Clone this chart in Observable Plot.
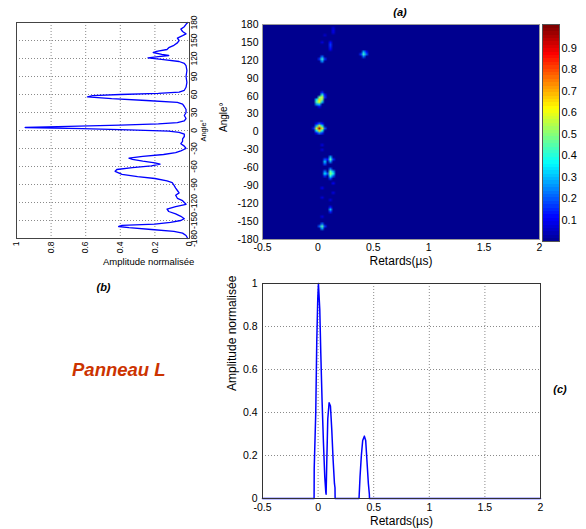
<!DOCTYPE html>
<html><head><meta charset="utf-8">
<script src="https://cdn.jsdelivr.net/npm/d3@7"></script>
<script src="https://cdn.jsdelivr.net/npm/@observablehq/plot@0.6"></script>
<style>
html,body{margin:0;padding:0;background:#fff;}
#fig{position:relative;width:586px;height:529px;overflow:hidden;font-family:"Liberation Sans",Arial,sans-serif;background:#fff;}
#fig svg{position:absolute;left:0;top:0;}
.tag{position:absolute;font-weight:900;font-style:italic;font-size:11px;color:#000;transform:translate(-50%,-50%);white-space:nowrap;}
.panel{position:absolute;left:72px;top:361px;font-weight:bold;font-style:italic;font-size:18.5px;line-height:18px;color:#CC3300;white-space:nowrap;}
</style></head><body><div id="fig"></div>
<script>
// ---------- data ----------
// (b) angular profile
const profileAngle = [-180,-175,-171,-168,-165,-162,-160,-158,-156,-153,-150,-147,-143,-139,-135,-131,-127,-123,-120,-117,-113,-108,-104,-100,-96,-91,-87,-84,-80,-77,-73,-68,-65,-62,-59,-56,-54,-51,-48,-46,-43,-40,-37,-34,-30,-26,-22,-18,-14,-10,-6,-3,-1,1,3,5,7,9,11,13,16,20,25,30,35,40,44,47,50,53,56,58,60,62,64,67,72,80,90,100,108,112,115,118,121,123,125,127,130,132,135,138,142,146,150,154,158,161,165,169,173,177,180];
const profileAmp = [0.01,0.02,0.04,0.09,0.22,0.35,0.41,0.39,0.2,0.11,0.05,0.03,0.05,0.08,0.12,0.13,0.08,0.02,0.03,0.04,0.07,0.08,0.06,0.07,0.08,0.09,0.1,0.13,0.2,0.3,0.39,0.43,0.42,0.33,0.22,0.17,0.2,0.27,0.33,0.35,0.27,0.15,0.08,0.05,0.02,0.03,0.05,0.04,0.04,0.03,0.03,0.06,0.12,0.35,0.62,0.95,0.7,0.4,0.18,0.07,0.03,0.02,0.03,0.02,0.02,0.03,0.04,0.07,0.25,0.45,0.59,0.56,0.4,0.18,0.06,0.03,0.02,0.015,0.02,0.015,0.02,0.03,0.06,0.15,0.24,0.18,0.12,0.16,0.21,0.19,0.13,0.12,0.09,0.07,0.06,0.07,0.04,0.02,0.04,0.05,0.03,0.02,0.01];
// (c) delay profile
const delayT = [-0.5,-0.036,-0.035,-0.021,-0.012,-0.003,0.003,0.015,0.024,0.036,0.048,0.06,0.069,0.072,0.078,0.087,0.099,0.111,0.123,0.135,0.147,0.152,0.153,0.368,0.377,0.389,0.401,0.416,0.428,0.44,0.452,0.461,0.462,2];
const delayAmp = [0,0,0.14,0.4,0.73,0.93,1.0,0.88,0.68,0.45,0.26,0.1,0.03,0.02,0.17,0.37,0.445,0.43,0.32,0.18,0.07,0.05,0,0,0.1,0.2,0.27,0.29,0.27,0.17,0.07,0.02,0,0];
// (a) delay-angle map: bright samples (rest of the map at background level)
const spotDelay = [
  0.0125,0.0125,0.0125,-0.0125,0.0375,-0.0125,0.0375,-0.0125,0.0375,0.0125,0.0125,-0.0375,0.0625,-0.0125,0.0375,-0.0125,0.0375,
  -0.0125,-0.0125,-0.0125,0.0125,0.0125,0.0125,0.0125,0.0375,0.0375,0.0375,0.0375,0.0375,0.0625,0.0125,0.0625,
  0.0375,0.0375,0.0375,0.0625,0.0125,
  0.4125,0.4125,0.4125,0.4375,0.3875,0.4375,
  0.1125,0.1125,0.1125,0.1125,0.1375,0.1375,0.1375,0.0625,0.0375,
  0.0625,0.0625,0.0625,
  0.1125,0.1125,0.1125,0.1375,0.0875,
  0.0625,0.0625,0.0625,
  0.1125,0.1125,0.1125,0.1375,0.1375,0.0875,0.1125,0.1125,0.1375,
  0.1125,0.1125,0.1125,
  0.0375,0.0375,0.0375,0.0125,0.0625,
  0.0375,0.0375,0.0375,0.1375,0.1375,0.0375,0.0375,0.1125];
const spotAngle = [
  6,2,10,6,6,2,2,10,10,-2,14,6,6,-2,-2,14,14,
  46,50,54,46,50,54,58,50,54,58,62,66,58,42,62,
  122,118,126,122,122,
  130,134,126,130,130,134,
  138,142,146,150,166,170,174,162,150,
  -50,-46,-54,
  -46,-42,-50,-46,-46,
  -70,-66,-74,
  -70,-66,-74,-70,-66,-70,-78,-62,-74,
  -130,-126,-134,
  -158,-162,-154,-158,-158,
  -94,-110,-142,-86,-102,-22,-30,-114];
const spotValue = [
  0.97,0.65,0.6,0.6,0.62,0.35,0.38,0.3,0.35,0.25,0.2,0.15,0.2,0.12,0.15,0.1,0.12,
  0.25,0.45,0.35,0.3,0.6,0.66,0.45,0.3,0.5,0.58,0.4,0.15,0.15,0.1,0.12,
  0.42,0.25,0.22,0.15,0.15,
  0.42,0.3,0.22,0.2,0.15,0.12,
  0.1,0.14,0.16,0.12,0.08,0.09,0.07,0.06,0.08,
  0.32,0.18,0.18,
  0.44,0.28,0.25,0.15,0.12,
  0.34,0.22,0.15,
  0.5,0.44,0.38,0.38,0.28,0.18,0.18,0.22,0.2,
  0.28,0.12,0.14,
  0.45,0.28,0.22,0.2,0.15,
  0.1,0.08,0.08,0.1,0.08,0.08,0.07,0.07];
const backgroundLevel = 0;
// axes
const delayDomain = [-0.5, 2];
const angleDomain = [-180, 180];
const delayTicks = [-0.5, 0, 0.5, 1, 1.5, 2];
const angleTicks = [-180,-150,-120,-90,-60,-30,0,30,60,90,120,150,180];
const ampTicks = [0, 0.2, 0.4, 0.6, 0.8, 1];
const colorbarTicks = [0.1,0.2,0.3,0.4,0.5,0.6,0.7,0.8,0.9];
const colorbarDomain = [0, 1.01];
const jetStops = [0, 0.111, 0.365, 0.619, 0.873, 1];
const jetColors = ["#00008F","#0000FF","#00FFFF","#FFFF00","#FF0000","#800000"];

// ---------- build ----------
const FONT = '"Liberation Sans", Arial, sans-serif';
const fmt = d => String(d);
const fig = document.getElementById("fig");
const profile = profileAngle.map((a, i) => ({angle: a, amp: profileAmp[i]}));
const delayProfile = delayT.map((t, i) => ({t, amp: delayAmp[i]}));
const spots = spotDelay.map((t, i) => ({t, angle: spotAngle[i], value: spotValue[i]}));
const colorScale = {type: "linear", domain: jetStops, range: jetColors, interpolate: "rgb", clamp: true};
const gridStyle = {stroke: "#8a8a8a", strokeOpacity: 1, strokeDasharray: "1,2", strokeWidth: 1};

// (a) heat map
const heat = Plot.plot({
  width: 545, height: 272, marginLeft: 262, marginRight: 6, marginTop: 24, marginBottom: 33,
  style: {fontFamily: FONT, fontSize: "10.5px", background: "transparent", color: "#000"},
  x: {domain: delayDomain}, y: {domain: angleDomain}, color: colorScale,
  marks: [
    Plot.rect([backgroundLevel], {x1: () => delayDomain[0], x2: () => delayDomain[1], y1: () => angleDomain[0], y2: () => angleDomain[1], fill: d => d}),
    Plot.raster(spots, {x: "t", y: "angle", fill: "value", x1: delayDomain[0], x2: delayDomain[1], y1: angleDomain[0], y2: angleDomain[1], width: 100, height: 90, imageRendering: "auto"}),
    Plot.frame({stroke: "#9a9a9a"}),
    Plot.axisX({ticks: delayTicks, tickFormat: fmt, tickSize: 0, tickPadding: 4, label: null, fontSize: 10.5}),
    Plot.axisY({ticks: angleTicks, tickFormat: fmt, tickSize: 0, tickPadding: 4, label: null, fontSize: 10.5}),
    Plot.text(["Retards(µs)"], {frameAnchor: "bottom", dy: 25, fontSize: 12}),
    Plot.text(["Angle°"], {frameAnchor: "left", dx: -39, rotate: -90, fontSize: 10})
  ]
});
fig.appendChild(heat);

// colour bar
const cbar = Plot.plot({
  width: 56, height: 272, marginLeft: 12, marginRight: 27, marginTop: 24, marginBottom: 31,
  style: {fontFamily: FONT, fontSize: "11px", background: "transparent", color: "#000"},
  x: {domain: [0, 1], axis: null}, y: {domain: colorbarDomain}, color: colorScale,
  marks: [
    Plot.raster({fill: (x, y) => y, x1: 0, x2: 1, y1: colorbarDomain[0], y2: colorbarDomain[1], width: 1, height: 64, imageRendering: "pixelated"}),
    Plot.frame({stroke: "#555"}),
    Plot.axisY({anchor: "right", ticks: colorbarTicks, tickFormat: fmt, tickSize: 0, tickPadding: 2, label: null, fontSize: 11})
  ]
});
cbar.style.left = "530px";
fig.appendChild(cbar);

// (b) angular profile, drawn then rotated a quarter turn
const left = Plot.plot({
  width: 258, height: 213, marginLeft: 32, marginRight: 10, marginTop: 10, marginBottom: 30,
  style: {fontFamily: FONT, fontSize: "8.5px", background: "transparent", color: "#000"},
  x: {domain: angleDomain}, y: {domain: [0, 1]},
  marks: [
    Plot.gridX({ticks: angleTicks, ...gridStyle}),
    Plot.gridY({ticks: ampTicks, ...gridStyle}),
    Plot.line(profile, {x: "angle", y: "amp", stroke: "#0000FF", strokeWidth: 1.3}),
    Plot.frame({stroke: "#444"}),
    Plot.axisX({ticks: angleTicks, tickFormat: fmt, tickSize: 0, tickPadding: 1.5, label: null, fontSize: 8.5}),
    Plot.axisY({ticks: ampTicks, tickFormat: fmt, tickSize: 0, tickPadding: 3, label: null, fontSize: 8.5}),
    Plot.text(["Angle°"], {frameAnchor: "bottom", dy: 16.5, fontSize: 7.5}),
    Plot.text(["Amplitude normalisée"], {frameAnchor: "left", dx: -23, rotate: 90, fontSize: 9.5})
  ]
});
left.style.transformOrigin = "0 0";
left.style.transform = "translate(6px,271px) rotate(-90deg)";
fig.appendChild(left);

// (c) delay profile
const bottom = Plot.plot({
  width: 350, height: 259, marginLeft: 62, marginRight: 10, marginTop: 13, marginBottom: 31,
  style: {fontFamily: FONT, fontSize: "10.5px", background: "transparent", color: "#000"},
  x: {domain: delayDomain}, y: {domain: [0, 1]},
  marks: [
    Plot.gridX({ticks: delayTicks, ...gridStyle}),
    Plot.gridY({ticks: ampTicks, ...gridStyle}),
    Plot.line(delayProfile, {x: "t", y: "amp", stroke: "#0000FF", strokeWidth: 1.5}),
    Plot.frame({stroke: "#333"}),
    Plot.axisX({ticks: delayTicks, tickFormat: fmt, tickSize: 0, tickPadding: 5.5, label: null, fontSize: 10.5}),
    Plot.axisY({ticks: ampTicks, tickFormat: fmt, tickSize: 0, tickPadding: 5, label: null, fontSize: 10.5}),
    Plot.text(["Retards(µs)"], {frameAnchor: "bottom", dy: 26, fontSize: 12}),
    Plot.text(["Amplitude normalisée"], {frameAnchor: "left", dx: -30, rotate: -90, fontSize: 12})
  ]
});
bottom.style.left = "200px";
bottom.style.top = "270px";
fig.appendChild(bottom);

// panel tags
function tag(text, x, y) {
  const d = document.createElement("div");
  d.className = "tag"; d.textContent = text;
  d.style.left = x + "px"; d.style.top = y + "px";
  fig.appendChild(d);
}
tag("(a)", 400, 12);
tag("(b)", 103.5, 287);
tag("(c)", 560, 388.5);
const p = document.createElement("div");
p.className = "panel"; p.textContent = "Panneau L";
fig.appendChild(p);
</script>
</body></html>
